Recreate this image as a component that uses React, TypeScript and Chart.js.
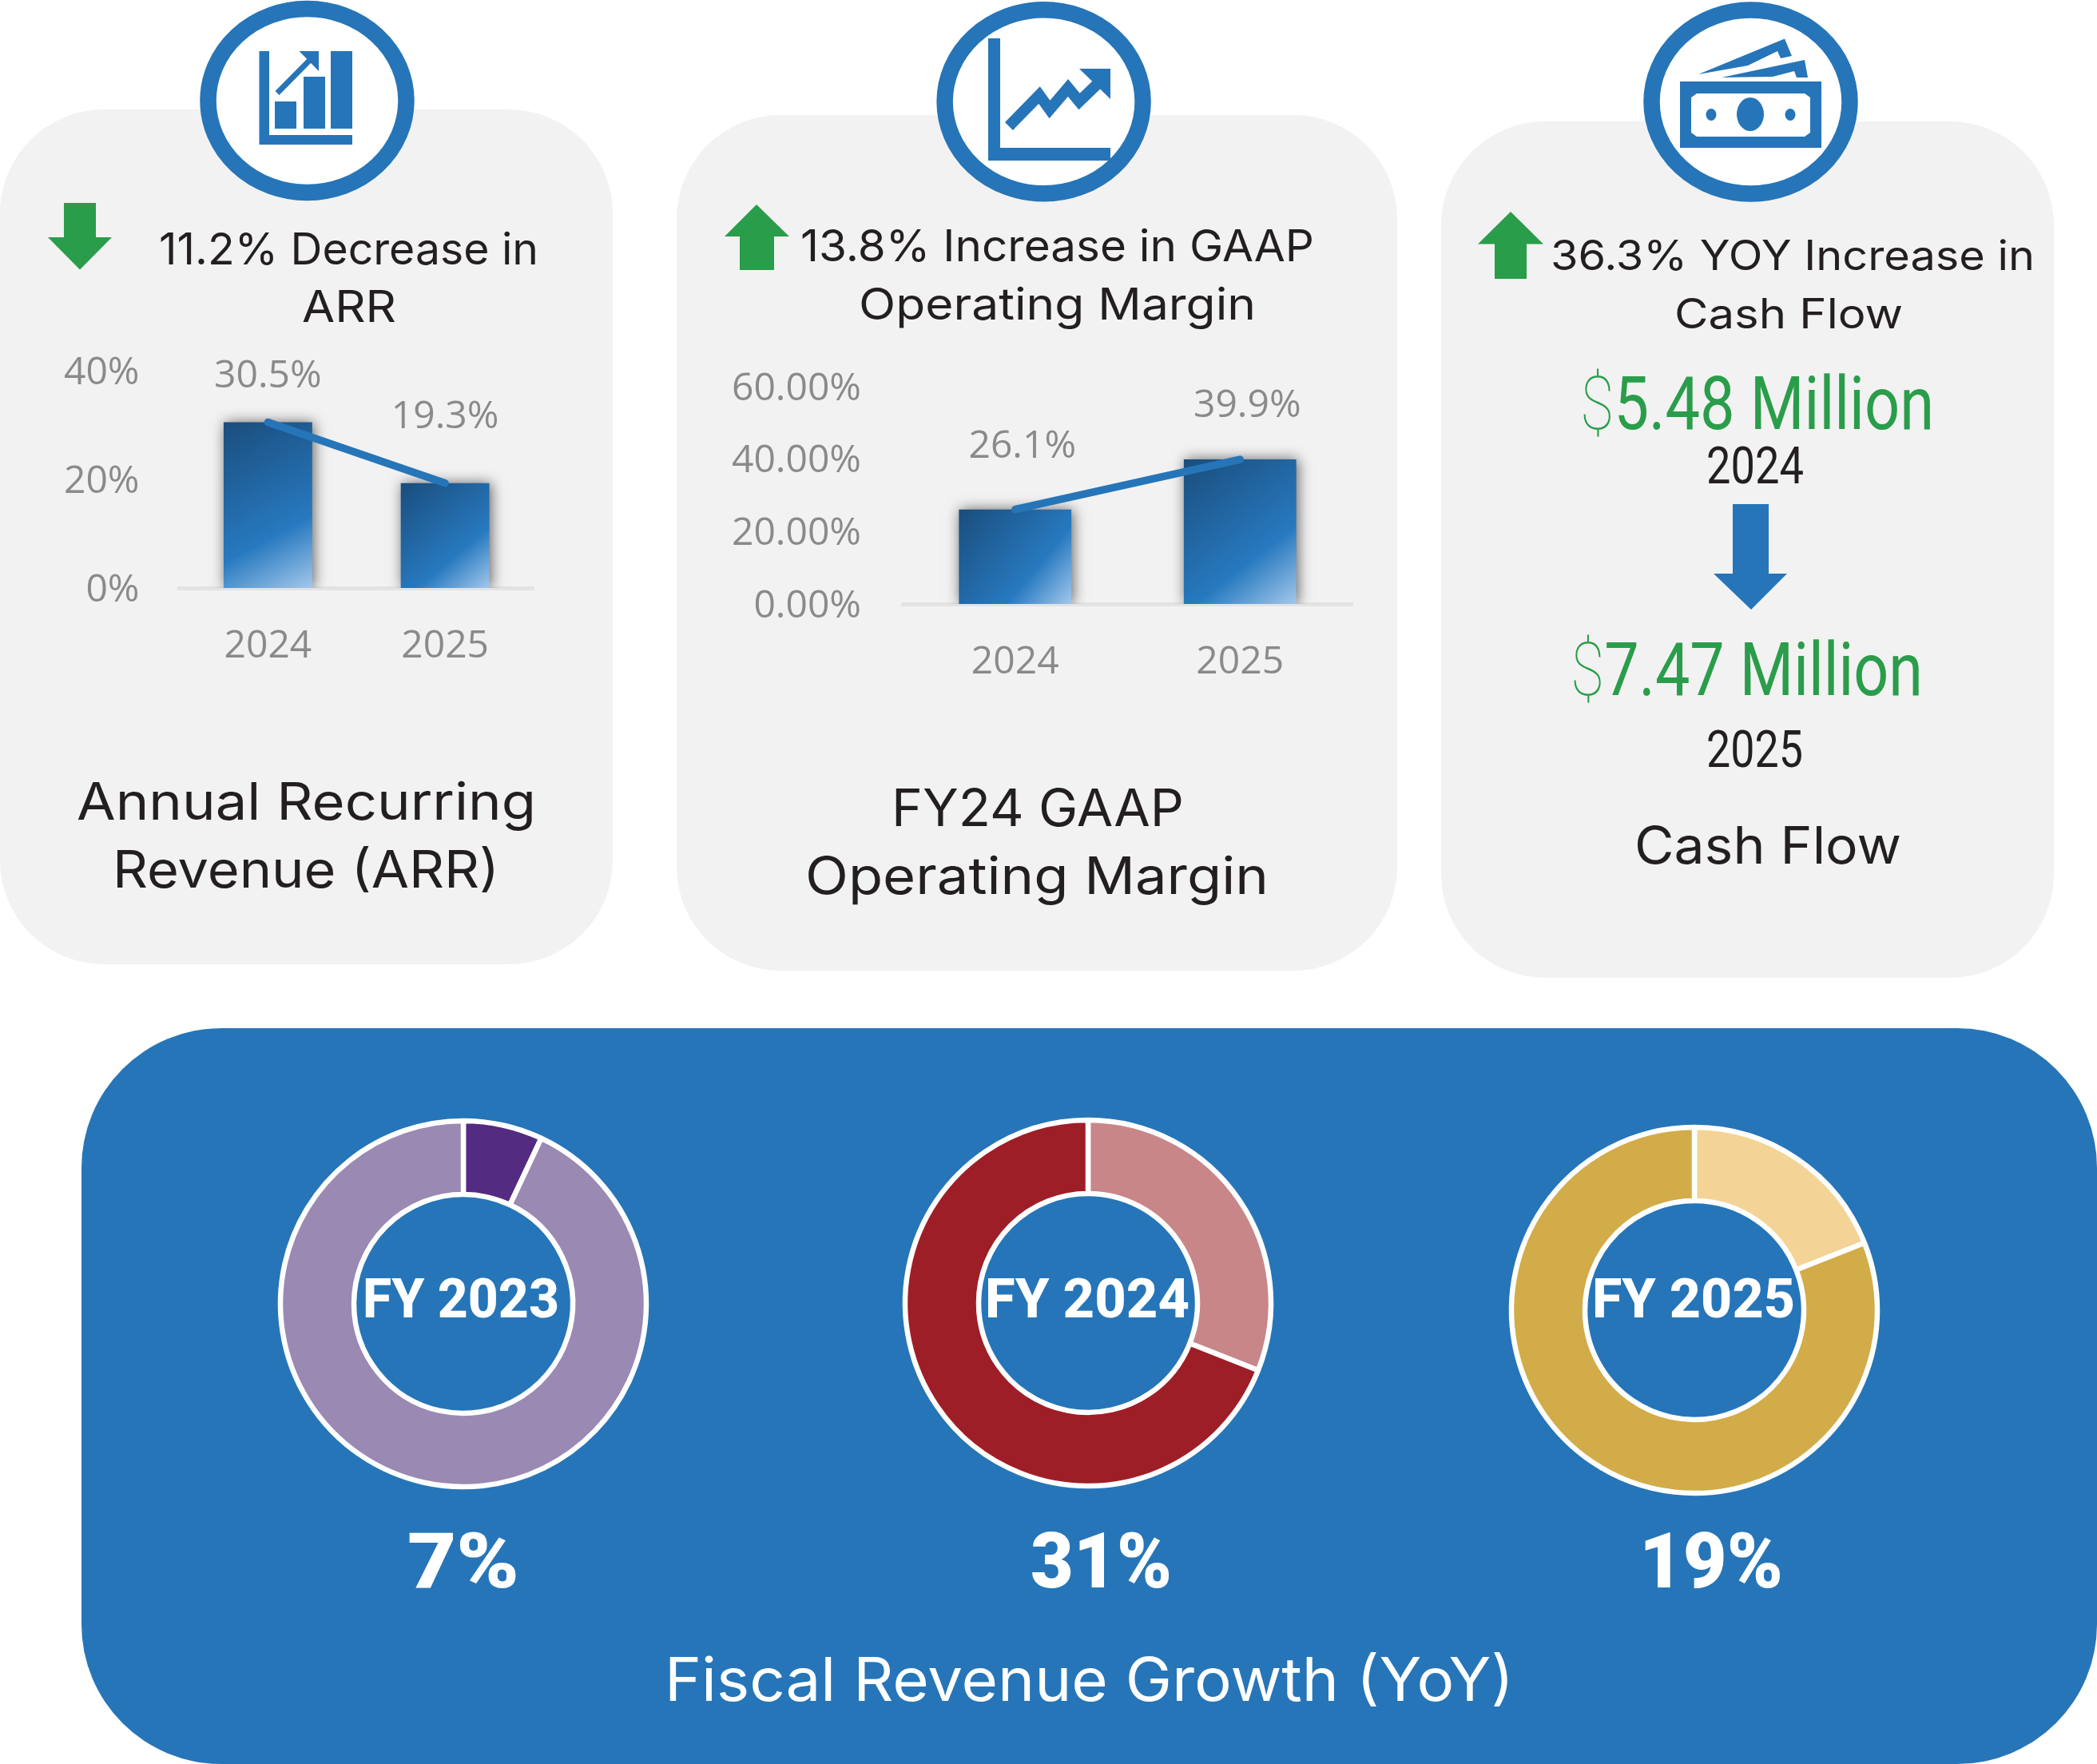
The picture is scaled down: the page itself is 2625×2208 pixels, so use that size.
import React, { useEffect, useRef } from "react";
import { Chart, registerables } from "chart.js";

Chart.register(...registerables);

// ---------- data ----------
const barYears = ["2024", "2025"];
const arrValues = [30.5, 19.3];
const arrTicks = ["0%", "20%", "40%"];
const arrLabels = ["30.5%", "19.3%"];
const marginValues = [26.1, 39.9];
const marginTicks = ["0.00%", "20.00%", "40.00%", "60.00%"];
const marginLabels = ["26.1%", "39.9%"];
const fy2023Growth = [7, 93];
const fy2024Growth = [31, 69];
const fy2025Growth = [19, 81];

// ---------- styling ----------
const BLUE = "#2675b8";
const CARD = "#f2f2f2";
const GREEN = "#2a9d4a";
const INK = "#231f20";
const GREY = "#8a8a8a";
const SANS = "Inter";
const TICK_FONT = { family: "'Open Sans'", size: 48 };

type BarCfg = {
  left: number; top: number; width: number; height: number;
  yAxisWidth: number; yPad: number; xAxisHeight: number; xPad: number;
  padTop: number; padRight: number; yMax: number;
  values: number[]; ticks: string[]; labels: string[];
  labelOffset: [number, number][];
};

const arrCfg: BarCfg = {
  left: 0, top: 400, width: 767, height: 500,
  yAxisWidth: 224.5, yPad: 50, xAxisHeight: 164, xPad: 45,
  padTop: 64, padRight: 99, yMax: 40,
  values: arrValues, ticks: arrTicks, labels: arrLabels,
  labelOffset: [[0, -57], [0, -82]],
};
const marginCfg: BarCfg = {
  left: 847, top: 420, width: 902, height: 500,
  yAxisWidth: 283, yPad: 52, xAxisHeight: 164, xPad: 45,
  padTop: 64, padRight: 56, yMax: 60,
  values: marginValues, ticks: marginTicks, labels: marginLabels,
  labelOffset: [[9, -78], [9, -67]],
};

const barShadow = {
  id: "barShadow",
  beforeDatasetDraw(chart: any, args: any) {
    if (args.index !== 1) return;
    const c = chart.ctx;
    c.save();
    c.shadowColor = "rgba(0,0,0,0.6)";
    c.shadowBlur = 16;
    c.shadowOffsetX = 2;
    c.shadowOffsetY = 0;
  },
  afterDatasetDraw(chart: any, args: any) {
    if (args.index !== 1) return;
    chart.ctx.restore();
  },
};

function makeValueLabels(cfg: BarCfg) {
  return {
    id: "valueLabels",
    afterDatasetsDraw(chart: any) {
      const c = chart.ctx;
      c.save();
      c.font = `${TICK_FONT.size}px ${TICK_FONT.family}`;
      c.fillStyle = GREY;
      c.textAlign = "center";
      c.textBaseline = "middle";
      cfg.labels.forEach((t, i) => {
        const x = chart.scales.x.getPixelForValue(i) + cfg.labelOffset[i][0];
        const y = chart.scales.y.getPixelForValue(cfg.values[i]) + cfg.labelOffset[i][1];
        c.fillText(t, x, y);
      });
      c.restore();
    },
  };
}

function barGradient(ctx: any) {
  const chart = ctx.chart;
  const { x, y } = chart.scales;
  if (!x || !y || !chart.chartArea) return BLUE;
  const half = (chart.chartArea.width / 2) * 0.25;
  const cx = x.getPixelForValue(ctx.dataIndex);
  const top = y.getPixelForValue(ctx.raw);
  const bottom = y.getPixelForValue(0);
  const g = chart.ctx.createLinearGradient(cx - half, top, cx + half, bottom);
  g.addColorStop(0, "#1a4d7c");
  g.addColorStop(0.66, "#2779bf");
  g.addColorStop(1, "#a2c8ec");
  return g;
}

function BarChart({ cfg }: { cfg: BarCfg }) {
  const ref = useRef<HTMLCanvasElement>(null);
  useEffect(() => {
    const chart = new Chart(ref.current as HTMLCanvasElement, {
      type: "bar",
      data: {
        labels: barYears,
        datasets: [
          {
            type: "line",
            data: cfg.values,
            borderColor: BLUE,
            borderWidth: 9.5,
            borderCapStyle: "round",
            pointRadius: 0,
            tension: 0,
            order: 0,
          } as any,
          {
            type: "bar",
            data: cfg.values,
            backgroundColor: barGradient,
            categoryPercentage: 0.5,
            barPercentage: 1,
            order: 1,
          } as any,
        ],
      },
      options: {
        responsive: false,
        animation: false,
        devicePixelRatio: 1,
        layout: { padding: { top: cfg.padTop, right: cfg.padRight, left: 0, bottom: 0 } },
        plugins: { legend: { display: false }, tooltip: { enabled: false } },
        scales: {
          x: {
            grid: { display: false, drawTicks: false },
            border: { display: true, color: "#e3e3e3", width: 5 },
            ticks: { color: GREY, font: TICK_FONT, padding: cfg.xPad },
            afterFit: (a: any) => {
              a.height = cfg.xAxisHeight;
              a.paddingLeft = 0;
              a.paddingRight = 0;
            },
          },
          y: {
            min: 0,
            max: cfg.yMax,
            grid: { display: false, drawTicks: false },
            border: { display: false },
            ticks: {
              stepSize: 20,
              color: GREY,
              font: TICK_FONT,
              padding: cfg.yPad,
              labelOffset: 3,
              callback: (_v: any, i: number) => cfg.ticks[i],
            },
            afterFit: (a: any) => {
              a.width = cfg.yAxisWidth;
              a.paddingTop = 0;
              a.paddingBottom = 0;
            },
          },
        },
      },
      plugins: [barShadow, makeValueLabels(cfg)],
    } as any);
    return () => chart.destroy();
  }, [cfg]);
  return (
    <canvas
      ref={ref}
      width={cfg.width}
      height={cfg.height}
      style={{ position: "absolute", left: cfg.left, top: cfg.top, width: cfg.width, height: cfg.height }}
    />
  );
}

const RING = { outer: 229, inner: 137, border: 6.5, box: 500 };

function Ring({ cx, cy, values, colors }: { cx: number; cy: number; values: number[]; colors: string[] }) {
  const ref = useRef<HTMLCanvasElement>(null);
  useEffect(() => {
    const chart = new Chart(ref.current as HTMLCanvasElement, {
      type: "doughnut",
      data: {
        datasets: [{ data: values, backgroundColor: colors, borderColor: "#ffffff", borderWidth: RING.border }],
      },
      options: {
        responsive: false,
        animation: false,
        devicePixelRatio: 1,
        radius: RING.outer,
        cutout: `${(RING.inner / RING.outer) * 100}%`,
        plugins: { legend: { display: false }, tooltip: { enabled: false } },
      },
    } as any);
    return () => chart.destroy();
  }, []);
  return (
    <canvas
      ref={ref}
      width={RING.box}
      height={RING.box}
      style={{ position: "absolute", left: cx - RING.box / 2, top: cy - RING.box / 2, width: RING.box, height: RING.box }}
    />
  );
}

function T(props: {
  x: number; end: number; y: number; size: number; text: string;
  fill?: string; weight?: number; family?: string; lead?: string;
}) {
  const { x, end, y, size, text, fill = INK, weight = 400, family = SANS, lead } = props;
  return (
    <text
      x={x}
      y={y}
      fontSize={size}
      fontWeight={weight}
      fontFamily={family}
      fill={fill}
      textLength={end - x}
      lengthAdjust="spacingAndGlyphs"
    >
      {lead ? <tspan fontWeight={100}>{lead}</tspan> : null}
      {text}
    </text>
  );
}

function Badge({ cx, cy }: { cx: number; cy: number }) {
  return <ellipse cx={cx} cy={cy} rx={124} ry={115} fill="#ffffff" stroke={BLUE} strokeWidth={20.5} />;
}

export default function App() {
  return (
    <div style={{ position: "absolute", left: 0, top: 0, width: 2625, height: 2208, overflow: "hidden", background: "#fff" }}>
      <svg width={2625} height={2208} style={{ position: "absolute", left: 0, top: 0 }}>
        {/* cards */}
        <rect x={0} y={137} width={767} height={1070} rx={130} fill={CARD} />
        <rect x={847} y={144} width={902} height={1071} rx={130} fill={CARD} />
        <rect x={1804} y={152} width={767} height={1072} rx={130} fill={CARD} />
        <rect x={102} y={1287} width={2523} height={921} rx={175} fill={BLUE} />

        {/* badges */}
        <Badge cx={384.5} cy={126} />
        <Badge cx={1306.6} cy={127.3} />
        <Badge cx={2191.5} cy={127.5} />

        {/* icon 1: bars */}
        <g fill={BLUE}>
          <path d="M324.5 64H337V169H441V181H324.5Z" />
          <rect x={344} y={127} width={27} height={34} />
          <rect x={380} y={96} width={27} height={65} />
          <rect x={414} y={64} width={27} height={97} />
          <path d="M374.5 64H399V89Z" />
        </g>
        <line x1={347} y1={116.5} x2={389} y2={74} stroke={BLUE} strokeWidth={7} />

        {/* icon 2: line chart */}
        <path d="M1237 48H1252V185H1390V201H1237Z" fill={BLUE} />
        <polyline
          points="1263,158 1301,119 1314,137 1337,110 1351,127 1378,101"
          fill="none"
          stroke={BLUE}
          strokeWidth={14}
        />
        <path d="M1351 86H1390V124Z" fill={BLUE} />

        {/* icon 3: bills */}
        <g fill={BLUE}>
          <path
            fillRule="evenodd"
            d="M2103 102H2280V185H2103Z M2124 117H2259L2266 122V166L2259 171H2124L2117 166V122Z"
          />
          <ellipse cx={2191} cy={143} rx={17} ry={21} />
          <ellipse cx={2142} cy={143.5} rx={6.5} ry={7.5} />
          <ellipse cx={2241} cy={143.5} rx={6.5} ry={7.5} />
          <path d="M2126 93L2234 48.5L2243 70L2229 73L2225 64L2188 82Z" />
          <path d="M2155 97L2259 75L2263 97L2249 97L2246 89L2219 96Z" />
        </g>

        {/* trend arrows */}
        <path d="M80 254H120V297H140L100 337.5L60 297H80Z" fill={GREEN} />
        <path d="M947 256L988 296H969V338H926V296H907Z" fill={GREEN} />
        <path d="M1891 265L1932 305.5H1911V349H1871V305.5H1850Z" fill={GREEN} />
        <path d="M2169 631H2214V718H2237L2192 763L2145 718H2169Z" fill={BLUE} />

        {/* headlines */}
        <T x={199} end={674} y={331} size={55} text="11.2% Decrease in" />
        <T x={378} end={496} y={403} size={55} text="ARR" />
        <T x={1002} end={1645} y={327} size={55} text="13.8% Increase in GAAP" />
        <T x={1075} end={1572} y={400} size={55} text="Operating Margin" />
        <T x={1941} end={2547} y={338} size={52} text="36.3% YOY Increase in" />
        <T x={2096} end={2382} y={411} size={52} text="Cash Flow" />

        {/* cash flow figures */}
        <T x={1978} end={2421} y={537} size={93} family="Roboto" fill={GREEN} lead="$" text="5.48 Million" />
        <T x={2136} end={2258} y={605} size={64} family="Roboto" text="2024" />
        <T x={1966} end={2407} y={870} size={93} family="Roboto" fill={GREEN} lead="$" text="7.47 Million" />
        <T x={2136} end={2257} y={960} size={64} family="Roboto" text="2025" />

        {/* card titles */}
        <T x={96} end={671} y={1026} size={64} text="Annual Recurring" />
        <T x={141} end={625} y={1111} size={64} text="Revenue (ARR)" />
        <T x={1116} end={1482} y={1034} size={64} text="FY24 GAAP" />
        <T x={1008} end={1588} y={1119} size={64} text="Operating Margin" />
        <T x={2046} end={2380} y={1081} size={64} text="Cash Flow" />

        {/* doughnut captions */}
        <T x={454} end={700} y={1649} size={68} weight={800} family="Roboto" fill="#fff" text="FY 2023" />
        <T x={1233} end={1489} y={1649} size={68} weight={800} family="Roboto" fill="#fff" text="FY 2024" />
        <T x={1993} end={2247} y={1649} size={68} weight={800} family="Roboto" fill="#fff" text="FY 2025" />
        <T x={510} end={650} y={1987} size={97} weight={900} family="Roboto" fill="#fff" text="7%" />
        <T x={1290} end={1467} y={1987} size={97} weight={900} family="Roboto" fill="#fff" text="31%" />
        <T x={2052} end={2232} y={1987} size={97} weight={900} family="Roboto" fill="#fff" text="19%" />
        <T x={832} end={1895} y={2129} size={75} fill="#fff" text="Fiscal Revenue Growth (YoY)" />
      </svg>

      <BarChart cfg={arrCfg} />
      <BarChart cfg={marginCfg} />
      <Ring cx={580} cy={1632} values={fy2023Growth} colors={["#532b81", "#9a89b2"]} />
      <Ring cx={1362} cy={1631} values={fy2024Growth} colors={["#c88689", "#9e1e28"]} />
      <Ring cx={2121} cy={1640} values={fy2025Growth} colors={["#f3d496", "#d2ac49"]} />
    </div>
  );
}
